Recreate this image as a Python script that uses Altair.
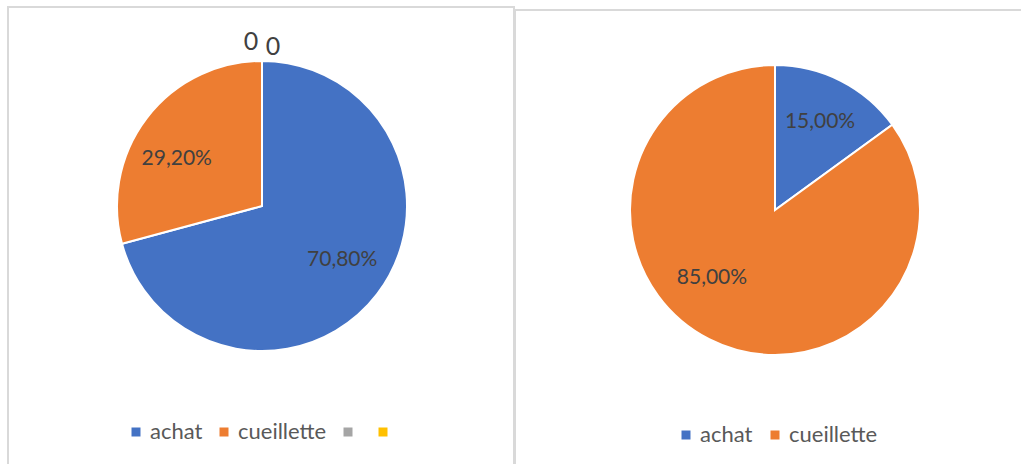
import altair as alt
import pandas as pd

# ---- data ----
left_categories = ["achat", "cueillette", " ", "  "]
left_values = [70.8, 29.2, 0.0, 0.0]
left_colors = ["#4472C4", "#ED7D31", "#A5A5A5", "#FFC000"]

right_categories = ["achat", "cueillette"]
right_values = [15.0, 85.0]
right_colors = ["#4472C4", "#ED7D31"]


def fmt(v):
    if v == 0:
        return "0"
    return f"{v:.2f}".replace(".", ",") + "%"


left_df = pd.DataFrame({
    "cat": left_categories,
    "value": left_values,
    "idx": list(range(len(left_values))),
    "label": [fmt(v) for v in left_values],
})
right_df = pd.DataFrame({
    "cat": right_categories,
    "value": right_values,
    "idx": list(range(len(right_values))),
    "label": [fmt(v) for v in right_values],
})

FONT = "Lato"
W, H = 1021, 464
LC = (262, 206)
RC = (775, 210)
R = 145

# panel borders
borders = pd.DataFrame({"x": [8, 515], "x2": [514, 1040], "y": [7, 10], "y2": [480, 480]})
border_layer = alt.Chart(borders).mark_rect(fill="white", stroke="#D9D9D9", strokeWidth=2).encode(
    x=alt.X("x:Q", scale=None), x2="x2:Q", y=alt.Y("y:Q", scale=None), y2="y2:Q"
)


def pie(df, center, domain, colors, legend_x, legend_y, col_pad):
    arcs = alt.Chart(df).mark_arc(radius=R, stroke="white", strokeWidth=2).encode(
        theta=alt.Theta("value:Q", stack=True),
        order=alt.Order("idx:Q"),
        color=alt.Color(
            "cat:N",
            scale=alt.Scale(domain=domain, range=colors),
            sort=domain,
            legend=alt.Legend(
                title=None, orient="none", direction="horizontal",
                legendX=legend_x, legendY=legend_y,
                symbolType="square", symbolSize=81, symbolStrokeWidth=0,
                labelFont=FONT, labelFontSize=22, labelColor="#595959",
                labelOffset=3, columnPadding=col_pad, padding=0,
            ),
        ),
        x=alt.value(center[0]),
        y=alt.value(center[1]),
    )
    return arcs


def label_layer(df, center, cat, radius, dx, dy, size=21):
    return alt.Chart(df).mark_text(
        radius=radius, font=FONT, fontSize=size, color="#404040", dx=dx, dy=dy
    ).encode(
        theta=alt.Theta("value:Q", stack=True),
        order=alt.Order("idx:Q"),
        text=alt.condition(alt.datum.cat == cat, alt.Text("label:N"), alt.value("")),
        x=alt.value(center[0]),
        y=alt.value(center[1]),
    )


left_pie = pie(left_df, LC, left_categories, left_colors, 125, 421, 10)
right_pie = pie(right_df, RC, right_categories, right_colors, 675, 424, 11)

labels = [
    label_layer(left_df, LC, "achat", 96, 4, -4),
    label_layer(left_df, LC, "cueillette", 96, -9, 11),
    label_layer(left_df, LC, " ", 164, -11, 0, 25),
    label_layer(left_df, LC, "  ", 164, 11, 5, 25),
    label_layer(right_df, RC, "achat", 97, 1, -2),
    label_layer(right_df, RC, "cueillette", 97, -19, -18),
]

chart = alt.layer(border_layer, left_pie, right_pie, *labels).resolve_scale(
    color="independent"
).properties(
    width=W, height=H, padding=0, autosize=alt.AutoSizeParams(type="none")
).configure_view(stroke=None)

chart.save("out.html", embed_options={"renderer": "svg", "actions": False})
